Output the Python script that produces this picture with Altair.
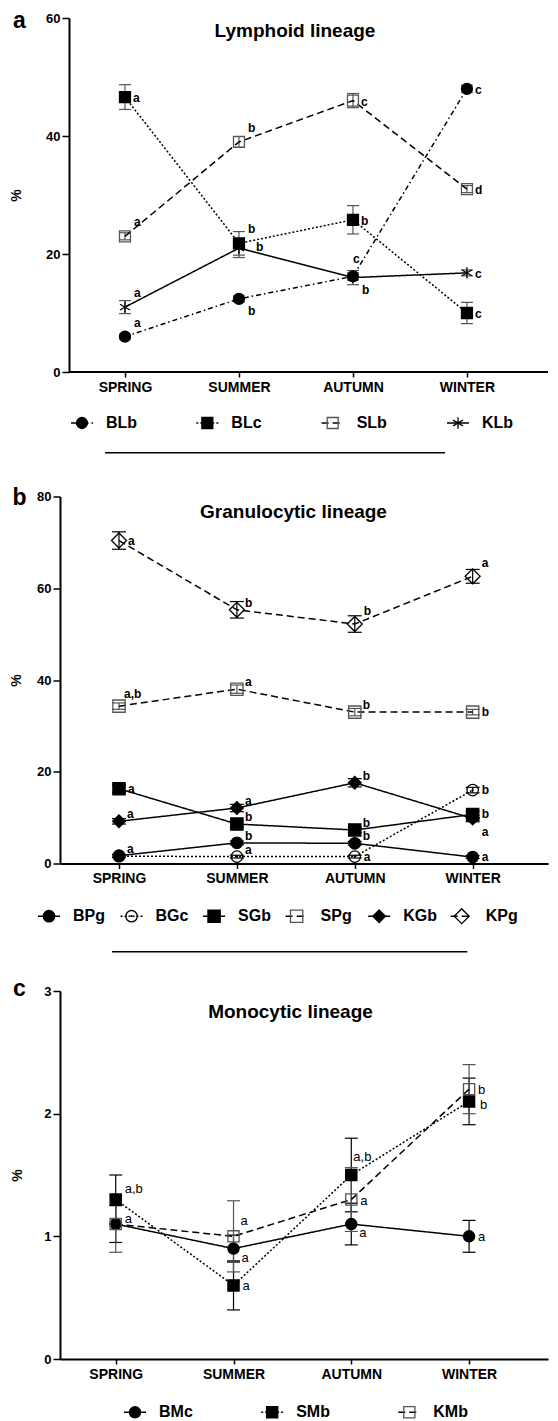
import altair as alt
import pandas as pd

FONT = "Liberation Sans"
SEASONS = ["SPRING", "SUMMER", "AUTUMN", "WINTER"]

# ---------------- panel a : Lymphoid lineage ----------------
A_TITLE = "Lymphoid lineage"
A_SERIES = ["BLb", "BLc", "SLb", "KLb"]
A_BLB = [6.0, 12.4, 16.2, 48.0]
A_BLC = [46.6, 21.8, 25.8, 10.0]
A_SLB = [23.0, 39.0, 46.0, 31.0]
A_KLB = [11.0, 21.0, 16.0, 16.8]
A_BLB_SE = [0.4, 0.5, 0.6, 0.6]
A_BLC_SE = [2.1, 2.0, 2.4, 1.8]
A_SLB_SE = [0.6, 0.9, 1.2, 0.6]
A_KLB_SE = [1.1, 1.6, 1.2, 0.5]
A_BLB_SIG = ["a", "b", "c", "c"]
A_BLC_SIG = ["a", "b", "b", "c"]
A_SLB_SIG = ["a", "b", "c", "d"]
A_KLB_SIG = ["a", "b", "b", "c"]
A_BLB_AT = ["ur", "lr", "u", "r"]
A_BLC_AT = ["r", "ur", "r", "r"]
A_SLB_AT = ["ur", "ur", "r", "r"]
A_KLB_AT = ["ur", "rr", "lr", "r"]

# ---------------- panel b : Granulocytic lineage ----------------
B_TITLE = "Granulocytic lineage"
B_SERIES = ["BPg", "BGc", "SGb", "SPg", "KGb", "KPg"]
B_BPG = [1.7, 4.5, 4.4, 1.4]
B_BGC = [1.6, 1.5, 1.5, 16.0]
B_SGB = [16.3, 8.6, 7.3, 10.7]
B_SPG = [34.3, 38.0, 33.0, 33.0]
B_KGB = [9.2, 12.1, 17.6, 9.8]
B_KPG = [70.4, 55.3, 52.2, 62.6]
B_BPG_SE = [0.3, 0.4, 0.4, 0.3]
B_BGC_SE = [0.3, 0.3, 0.3, 0.6]
B_SGB_SE = [0.8, 0.7, 0.6, 0.7]
B_SPG_SE = [0.7, 0.9, 0.8, 0.6]
B_KGB_SE = [0.6, 0.8, 0.9, 0.7]
B_KPG_SE = [1.9, 1.8, 1.8, 1.5]
B_BPG_SIG = ["a", "b", "b", "a"]
B_BGC_SIG = ["", "a", "a", "b"]
B_SGB_SIG = ["a", "b", "b", "b"]
B_SPG_SIG = ["a,b", "a", "b", "b"]
B_KGB_SIG = ["a", "a", "b", "a"]
B_KPG_SIG = ["a", "b", "b", "a"]
B_BPG_AT = ["ur", "ur", "ur", "r"]
B_BGC_AT = ["", "ur", "r", "r"]
B_SGB_AT = ["r", "ur", "ur", "r"]
B_SPG_AT = ["ul", "ur", "ur", "r"]
B_KGB_AT = ["ur", "ur", "ur", "lr"]
B_KPG_AT = ["r", "ur", "uu", "uu"]

# ---------------- panel c : Monocytic lineage ----------------
C_TITLE = "Monocytic lineage"
C_SERIES = ["BMc", "SMb", "KMb"]
C_BMC = [1.1, 0.9, 1.1, 1.0]
C_SMB = [1.3, 0.6, 1.5, 2.1]
C_KMB = [1.1, 1.0, 1.3, 2.2]
C_BMC_SE = [0.15, 0.11, 0.17, 0.13]
C_SMB_SE = [0.2, 0.2, 0.3, 0.19]
C_KMB_SE = [0.23, 0.29, 0.26, 0.2]
C_BMC_SIG = ["", "a", "a", "a"]
C_SMB_SIG = ["a,b", "a", "a,b", "b"]
C_KMB_SIG = ["a", "a", "a", "b"]
C_BMC_AT = ["", "lr", "lr", "r"]
C_SMB_AT = ["ur", "r", "u", "rd"]
C_KMB_AT = ["us", "uu", "r", "r"]

# ---------------- styles ----------------
ASTERISK = "M0,-1V1M-0.87,-0.5L0.87,0.5M-0.87,0.5L0.87,-0.5"
DASHDOT = [5, 3, 1.5, 3]
DOTTED = [2, 2]
DASHED = [7, 4]
SOLID = [1, 0]
GREY = "#555555"


def sty(shape, fill, stroke, size, dash, err, dot=False):
    return dict(shape=shape, fill=fill, stroke=stroke, size=size, dash=dash, err=err, dot=dot)


STYLE = {
    "BLb": sty("circle", "black", "black", 120, DASHDOT, GREY),
    "BLc": sty("square", "black", "black", 120, DOTTED, GREY),
    "SLb": sty("square", "transparent", GREY, 120, DASHED, GREY),
    "KLb": sty(ASTERISK, "transparent", "black", 130, SOLID, GREY),
    "BPg": sty("circle", "black", "black", 130, SOLID, "black"),
    "BGc": sty("circle", "transparent", "black", 130, DOTTED, "black", dot=True),
    "SGb": sty("square", "black", "black", 150, SOLID, "black"),
    "SPg": sty("square", "transparent", GREY, 150, DASHED, GREY),
    "KGb": sty("diamond", "black", "black", 160, SOLID, "black"),
    "KPg": sty("diamond", "transparent", "black", 225, DASHED, "black"),
    "BMc": sty("circle", "black", "black", 125, SOLID, "black"),
    "SMb": sty("square", "black", "black", 125, DOTTED, "black"),
    "KMb": sty("square", "transparent", GREY, 125, DASHED, GREY),
}

W = 488


def make_panel(series, means, ses, sigs, ats, offsets, xdom, ydom, yticks, H,
               yoff, title_x, title, title_xy, letter, letter_xy, legend_y,
               legend_range, sep=None, sig_font=(12, "bold"), cap=12,
               own_xline=False, top_pad=None):
    rows = []
    for s in series:
        for i, season in enumerate(SEASONS):
            m = means[s][i]
            e = ses[s][i]
            rows.append({"series": s, "x": i, "season": season, "y": m,
                         "lo": m - e, "hi": m + e, "sig": sigs[s][i],
                         "place": ats[s][i]})
    df = pd.DataFrame(rows)

    xaxis = alt.Axis(values=list(range(len(SEASONS))),
                     labelExpr=f"{SEASONS}[datum.value]", title=None,
                     grid=False, domain=not own_xline, domainColor="black",
                     domainWidth=2, tickColor="black", tickWidth=1.5,
                     tickSize=5, labelFont=FONT, labelFontSize=14,
                     labelFontWeight="bold", labelColor="black",
                     labelPadding=3, labelOverlap=False, labelFlush=False)
    yaxis = alt.Axis(values=yticks, title="%", titleFont=FONT, titleFontSize=14,
                     titleFontWeight="bold", titleColor="black", titleAngle=270,
                     titleX=title_x, titleY=H / 2, titleAlign="center",
                     titleBaseline="middle", grid=False, domainColor="black",
                     domainWidth=2, tickColor="black", tickWidth=1.5,
                     tickSize=7, labelFont=FONT, labelFontSize=13,
                     labelFontWeight="bold", labelColor="black",
                     labelPadding=2, offset=yoff, labelFlush=False)

    def X():
        return alt.X("x:Q", scale=alt.Scale(domain=xdom, nice=False, zero=False), axis=xaxis)

    def Y(f):
        return alt.Y(f"{f}:Q", scale=alt.Scale(domain=ydom, nice=False, zero=False), axis=yaxis)

    layers = []
    # error bars
    for s in series:
        st = STYLE[s]
        d = df[df["series"] == s]
        layers.append(alt.Chart(d).mark_rule(color=st["err"], strokeWidth=1.2)
                      .encode(x=X(), y=Y("lo"), y2=alt.Y2("hi:Q")))
        for f in ("lo", "hi"):
            layers.append(alt.Chart(d).mark_point(shape="M-1,0H1", size=cap * cap,
                                                  filled=False, color=st["err"],
                                                  strokeWidth=1.2, opacity=1)
                          .encode(x=X(), y=Y(f)))
    # lines
    for s in series:
        st = STYLE[s]
        d = df[df["series"] == s]
        layers.append(alt.Chart(d).mark_line(color="black", strokeWidth=1.5,
                                             strokeDash=st["dash"])
                      .encode(x=X(), y=Y("y")))
    # markers
    for s in series:
        st = STYLE[s]
        d = df[df["series"] == s]
        layers.append(alt.Chart(d).mark_point(shape=st["shape"], size=st["size"],
                                              filled=True, fill=st["fill"],
                                              stroke=st["stroke"], strokeWidth=1.3,
                                              opacity=1)
                      .encode(x=X(), y=Y("y")))
        if st["dot"]:
            layers.append(alt.Chart(d).mark_point(shape="circle", size=5, filled=True,
                                                  color="black", opacity=1)
                          .encode(x=X(), y=Y("y")))
    # significance letters
    for code, (dx, dy) in offsets.items():
        d = df[(df["place"] == code) & (df["sig"] != "")]
        if len(d):
            layers.append(alt.Chart(d).mark_text(align="left", baseline="middle",
                                                 dx=dx, dy=dy, font=FONT,
                                                 fontSize=sig_font[0],
                                                 fontWeight=sig_font[1],
                                                 color="black")
                          .encode(x=X(), y=Y("y"), text="sig:N"))
    if own_xline:
        layers.append(alt.Chart(pd.DataFrame({"k": [0]})).mark_rule(color="black", strokeWidth=2)
                      .encode(x=alt.value(-yoff), x2=alt.value(W), y=alt.value(H)))

    # legend + annotations (independent x)
    LX = alt.X("series:N", scale=alt.Scale(type="point", domain=series,
                                           range=legend_range, padding=0), axis=None)
    ld = pd.DataFrame({"series": series})
    leg = []
    for s in series:
        st = STYLE[s]
        d = ld[ld["series"] == s]
        leg.append(alt.Chart(d).mark_point(shape="M-1,0H1", size=22 * 22, filled=False,
                                           color="black", strokeWidth=1.5,
                                           strokeDash=st["dash"], opacity=1)
                   .encode(x=LX, y=alt.value(legend_y)))
        leg.append(alt.Chart(d).mark_point(shape=st["shape"], size=st["size"],
                                           filled=True, fill=st["fill"],
                                           stroke=st["stroke"], strokeWidth=1.3, opacity=1)
                   .encode(x=LX, y=alt.value(legend_y)))
        if st["dot"]:
            leg.append(alt.Chart(d).mark_point(shape="circle", size=5, filled=True,
                                               color="black", opacity=1)
                       .encode(x=LX, y=alt.value(legend_y)))
    leg.append(alt.Chart(ld).mark_text(align="left", baseline="middle", dx=24, font=FONT,
                                       fontSize=16, fontWeight="bold", color="black")
               .encode(x=LX, y=alt.value(legend_y), text="series:N"))

    one_t = pd.DataFrame({"t": [title]})
    leg.append(alt.Chart(one_t).mark_text(font=FONT, fontSize=19, fontWeight="bold",
                                          align="center", baseline="middle", color="black")
               .encode(x=alt.value(title_xy[0]), y=alt.value(title_xy[1]), text="t:N"))
    one_l = pd.DataFrame({"t": [letter]})
    leg.append(alt.Chart(one_l).mark_text(font=FONT, fontSize=23, fontWeight="bold",
                                          align="center", baseline="alphabetic", color="black")
               .encode(x=alt.value(letter_xy[0]), y=alt.value(letter_xy[1]), text="t:N"))
    if sep is not None:
        leg.append(alt.Chart(pd.DataFrame({"k": [0]})).mark_rule(color="black", strokeWidth=1.5)
                   .encode(x=alt.value(sep[0]), x2=alt.value(sep[1]), y=alt.value(sep[2])))
    if top_pad is not None:
        # invisible spacer that only reserves room above the panel
        leg.append(alt.Chart(pd.DataFrame({"k": [0]})).mark_rule(color="white", strokeWidth=0.1,
                                                                 strokeOpacity=0)
                   .encode(x=alt.value(100), x2=alt.value(101), y=alt.value(top_pad)))

    data_layer = alt.layer(*layers)
    leg_layer = alt.layer(*leg)
    return alt.layer(data_layer, leg_layer).resolve_scale(x="independent").properties(
        width=W, height=H)


panel_a = make_panel(
    A_SERIES,
    {"BLb": A_BLB, "BLc": A_BLC, "SLb": A_SLB, "KLb": A_KLB},
    {"BLb": A_BLB_SE, "BLc": A_BLC_SE, "SLb": A_SLB_SE, "KLb": A_KLB_SE},
    {"BLb": A_BLB_SIG, "BLc": A_BLC_SIG, "SLb": A_SLB_SIG, "KLb": A_KLB_SIG},
    {"BLb": A_BLB_AT, "BLc": A_BLC_AT, "SLb": A_SLB_AT, "KLb": A_KLB_AT},
    {"r": (8, 1), "ur": (9, -14), "lr": (9, 12), "u": (0, -17), "rr": (17, -1)},
    [-0.570, 3.711], [0, 60], [0, 20, 40, 60], 354,
    -9, -53, A_TITLE, (235, 13), "a", (-40.5, 9.7), 405, [22, 398],
    own_xline=True)

panel_b = make_panel(
    B_SERIES,
    {"BPg": B_BPG, "BGc": B_BGC, "SGb": B_SGB, "SPg": B_SPG, "KGb": B_KGB, "KPg": B_KPG},
    {"BPg": B_BPG_SE, "BGc": B_BGC_SE, "SGb": B_SGB_SE, "SPg": B_SPG_SE, "KGb": B_KGB_SE, "KPg": B_KPG_SE},
    {"BPg": B_BPG_SIG, "BGc": B_BGC_SIG, "SGb": B_SGB_SIG, "SPg": B_SPG_SIG, "KGb": B_KGB_SIG, "KPg": B_KPG_SIG},
    {"BPg": B_BPG_AT, "BGc": B_BGC_AT, "SGb": B_SGB_AT, "SPg": B_SPG_AT, "KGb": B_KGB_AT, "KPg": B_KPG_AT},
    {"r": (9, 0), "ur": (8, -7), "uu": (9, -13), "lr": (9, 13), "ul": (5, -12)},
    [-0.5004, 3.639], [0, 80], [0, 20, 40, 60, 80], 367,
    0, -44, B_TITLE, (233.5, 15.7), "b", (-40.5, 8), 419.7, [-11, 401.7],
    sep=(45, 385, -43.7), cap=14)

panel_c = make_panel(
    C_SERIES,
    {"BMc": C_BMC, "SMb": C_SMB, "KMb": C_KMB},
    {"BMc": C_BMC_SE, "SMb": C_SMB_SE, "KMb": C_KMB_SE},
    {"BMc": C_BMC_SIG, "SMb": C_SMB_SIG, "KMb": C_KMB_SIG},
    {"BMc": C_BMC_AT, "SMb": C_SMB_AT, "KMb": C_KMB_AT},
    {"r": (9, 1), "ur": (9, -11), "us": (9, -5), "uu": (7, -15), "lr": (8, 9),
     "u": (2, -18), "rd": (11, 4)},
    [-0.473, 3.670], [0, 3], [0, 1, 2, 3], 368,
    0, -42.5, C_TITLE, (230.5, 21), "c", (-40.7, 4.7), 421.3, [75, 349.3],
    sep=(52, 407.3, -39.3), sig_font=(13, "normal"), cap=13, top_pad=-44.6)

chart = alt.vconcat(panel_a, panel_b, panel_c, spacing=19.5).properties(
    padding={"left": 1, "top": 1, "right": 0, "bottom": 0}
).configure_view(stroke=None)

chart.save("out.html", embed_options={"renderer": "svg", "actions": False})
